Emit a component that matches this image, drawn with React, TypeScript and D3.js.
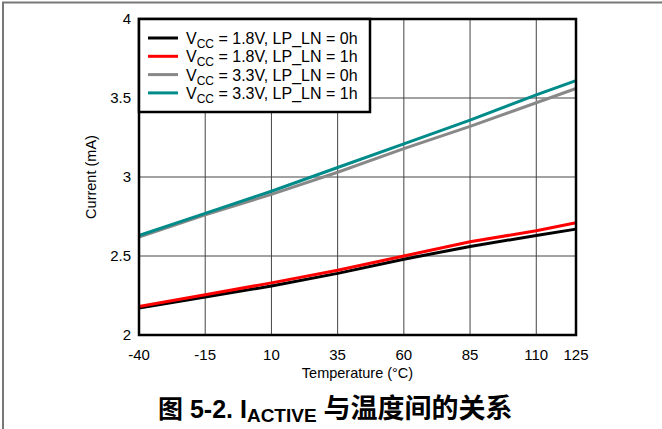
import React, { useEffect, useRef } from 'react';
import * as d3 from 'd3';

const temps = [-40, -15, 10, 35, 60, 85, 110, 125];
const xTicks = [-40, -15, 10, 35, 60, 85, 110, 125];
const yTicks = [2, 2.5, 3, 3.5, 4];

const vcc18lp0 = [2.17, 2.24, 2.31, 2.39, 2.48, 2.56, 2.63, 2.67];
const vcc18lp1 = [2.18, 2.255, 2.33, 2.41, 2.5, 2.59, 2.66, 2.71];
const vcc33lp0 = [2.62, 2.76, 2.89, 3.03, 3.18, 3.32, 3.47, 3.56];
const vcc33lp1 = [2.63, 2.77, 2.91, 3.06, 3.21, 3.36, 3.52, 3.61];

const series = [
  { vcc: '1.8V', lp: '0h', color: '#000000', values: vcc18lp0 },
  { vcc: '1.8V', lp: '1h', color: '#ff0000', values: vcc18lp1 },
  { vcc: '3.3V', lp: '0h', color: '#888888', values: vcc33lp0 },
  { vcc: '3.3V', lp: '1h', color: '#008b8b', values: vcc33lp1 },
];

export default function App() {
  const ref = useRef<SVGSVGElement>(null);

  useEffect(() => {
    const svg = d3.select(ref.current);
    svg.selectAll('*').remove();

    const left = 139, right = 576, top = 19, bottom = 335;
    const font = '"Liberation Sans", Arial, sans-serif';

    const x = d3.scaleLinear().domain([-40, 125]).range([left, right]);
    const y = d3.scaleLinear().domain([2, 4]).range([bottom, top]);

    // outer frame
    svg.append('path')
      .attr('d', 'M3,429 L3,2.5 L662,2.5')
      .attr('fill', 'none')
      .attr('stroke', '#777')
      .attr('stroke-width', 2);

    // grid
    const g = svg.append('g');
    g.selectAll('.vx')
      .data(xTicks.slice(1, -1))
      .join('line')
      .attr('x1', d => x(d)).attr('x2', d => x(d))
      .attr('y1', top).attr('y2', bottom)
      .attr('stroke', '#444').attr('stroke-width', 1);
    g.selectAll('.hy')
      .data(yTicks.slice(1, -1))
      .join('line')
      .attr('x1', left).attr('x2', right)
      .attr('y1', d => y(d)).attr('y2', d => y(d))
      .attr('stroke', '#444').attr('stroke-width', 1);

    // lines
    const line = d3.line<number>()
      .x((_, i) => x(temps[i]))
      .y(d => y(d));
    series.forEach(s => {
      svg.append('path')
        .attr('d', line(s.values))
        .attr('fill', 'none')
        .attr('stroke', s.color)
        .attr('stroke-width', 3);
    });

    // plot border
    svg.append('rect')
      .attr('x', left).attr('y', top)
      .attr('width', right - left).attr('height', bottom - top)
      .attr('fill', 'none').attr('stroke', '#000').attr('stroke-width', 2.5);

    // tick labels
    svg.selectAll('.xt')
      .data(xTicks)
      .join('text')
      .attr('x', d => x(d)).attr('y', 360)
      .attr('text-anchor', 'middle')
      .attr('font-family', font).attr('font-size', 15)
      .text(d => d);
    svg.selectAll('.yt')
      .data(yTicks)
      .join('text')
      .attr('x', 131).attr('y', d => y(d) + 5)
      .attr('text-anchor', 'end')
      .attr('font-family', font).attr('font-size', 15)
      .text(d => d);

    // axis titles
    svg.append('text')
      .attr('x', (left + right) / 2).attr('y', 378)
      .attr('text-anchor', 'middle')
      .attr('font-family', font).attr('font-size', 14.5)
      .text('Temperature (°C)');
    svg.append('text')
      .attr('transform', `translate(96,${(top + bottom) / 2}) rotate(-90)`)
      .attr('text-anchor', 'middle')
      .attr('font-family', font).attr('font-size', 14.5)
      .text('Current (mA)');

    // legend
    const lg = svg.append('g');
    lg.append('rect')
      .attr('x', left).attr('y', top)
      .attr('width', 231).attr('height', 93)
      .attr('fill', '#fff').attr('stroke', '#000').attr('stroke-width', 2.5);
    series.forEach((s, i) => {
      const ly = 38 + i * 18.3;
      lg.append('line')
        .attr('x1', 148).attr('x2', 178)
        .attr('y1', ly).attr('y2', ly)
        .attr('stroke', s.color).attr('stroke-width', 3);
      const t = lg.append('text')
        .attr('x', 186).attr('y', ly + 6)
        .attr('font-family', font).attr('font-size', 16);
      t.append('tspan').text('V');
      t.append('tspan').attr('font-size', 12).attr('dy', 4).text('CC');
      t.append('tspan').attr('dy', -4).text(` = ${s.vcc}, LP_LN = ${s.lp}`);
    });

    // caption
    const cap = svg.append('text')
      .attr('x', 158).attr('y', 418)
      .attr('font-family', '"Liberation Sans", "Noto Sans CJK SC", sans-serif')
      .attr('font-weight', 'bold').attr('font-size', 25);
    cap.append('tspan').text('图 5-2. I');
    cap.append('tspan').attr('font-size', 19).attr('dy', 4).text('ACTIVE');
    cap.append('tspan').attr('dy', -4).attr('dx', 7).attr('font-size', 27).text('与温度间的关系');
  }, []);

  return (
    <svg
      ref={ref}
      width={662}
      height={429}
      style={{ position: 'absolute', left: 0, top: 0, background: '#fff' }}
    />
  );
}
